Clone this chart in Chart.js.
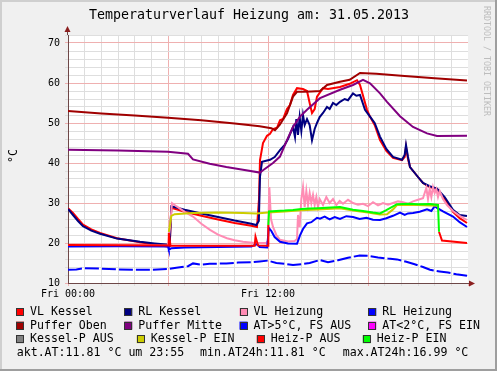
<!DOCTYPE html>
<html>
<head>
<meta charset="utf-8">
<script src="https://cdn.jsdelivr.net/npm/chart.js@4"></script>
<style>
    html, body { margin: 0; padding: 0; background: #f0f0f0; }
    canvas { display: block; }
</style>
</head>
<body>
<canvas id="chart" width="497" height="371"></canvas>
<script>
// time axis in hours of 31.05.2013, values in °C
const xTickLabels = { 0: 'Fri 00:00', 12: 'Fri 12:00' };

const vlKesselT = [0, 0.3, 0.6, 0.9, 1.4, 1.92, 2.94, 4.32, 5.2, 5.95, 6.1, 6.2, 7, 8, 9, 10, 11, 11.34, 11.46, 11.52, 11.7, 11.94, 12.12, 12.3, 12.54, 12.72, 12.9, 13.14, 13.32, 13.5, 13.74, 14.1, 14.34, 14.5, 14.64, 14.8, 14.94, 15.3, 15.6, 16.32, 16.9, 17.34, 17.52, 17.94, 18.12, 18.4, 18.72, 19.1, 19.5, 20.04, 20.2, 20.28, 20.4, 20.52, 21.0, 21.3, 21.7, 22.14, 22.6, 23.1, 23.5, 23.94];
const vlKesselV = [28.7, 27.5, 26.0, 24.6, 23.4, 22.5, 21.2, 20.2, 19.6, 19.1, 19.2, 28.8, 27.8, 26.8, 25.9, 25.0, 24.3, 24.0, 31.0, 40.7, 45.0, 46.8, 47.3, 48.5, 48.8, 50.7, 51.0, 53.5, 54.5, 57.0, 58.7, 58.5, 58.0, 55.0, 52.5, 53.5, 56.6, 58.7, 58.5, 59.0, 59.8, 60.7, 59.5, 53.3, 51.6, 49.5, 45.7, 43.0, 41.3, 40.7, 41.5, 44.0, 41.0, 39.0, 36.5, 35.0, 34.0, 33.5, 31.0, 27.8, 26.2, 25.0];

const rlKesselT = [0, 0.3, 0.6, 0.9, 1.4, 1.92, 2.94, 4.32, 5.2, 5.9, 6.1, 6.2, 7, 8, 9, 10, 11, 11.3, 11.45, 11.52, 11.64, 12.12, 12.4, 12.72, 13.0, 13.2, 13.5, 13.62, 13.7, 13.8, 13.9, 14.0, 14.1, 14.2, 14.34, 14.5, 14.64, 14.8, 14.94, 15.1, 15.3, 15.54, 15.7, 15.9, 16.1, 16.32, 16.6, 16.8, 17.1, 17.3, 17.52, 17.82, 18.12, 18.4, 18.72, 19.1, 19.5, 20.04, 20.2, 20.28, 20.4, 20.52, 21.0, 21.3, 21.7, 22.14, 22.6, 23.1, 23.5, 23.94];
const rlKesselV = [28.5, 27.0, 25.5, 24.2, 23.1, 22.3, 21.1, 20.3, 19.9, 19.6, 19.3, 29.2, 28.3, 27.4, 26.5, 25.6, 24.8, 24.5, 25.5, 36.6, 40.3, 40.8, 41.5, 43.2, 44.5, 46.0, 49.0, 46.5, 51.0, 47.0, 51.5, 48.0, 52.0, 49.5, 51.0, 49.5, 45.7, 48.5, 50.0, 51.5, 52.5, 54.0, 53.5, 55.0, 54.5, 55.3, 56.0, 55.7, 57.4, 56.8, 57.0, 53.3, 51.6, 50.0, 46.6, 43.5, 41.5, 40.8, 42.0, 44.5, 41.5, 39.0, 36.5, 35.0, 34.2, 33.6, 31.5, 28.3, 27.0, 26.75];

const vlHeizungT = [0, 6.0, 6.1, 6.24, 6.5, 7.0, 7.5, 8.0, 8.52, 9.0, 9.54, 10.0, 10.5, 11.22, 11.9, 12.0, 12.08, 12.18, 12.3, 12.5, 12.72, 13.2, 13.6, 13.74, 13.8, 13.9, 14.0, 14.1, 14.2, 14.3, 14.4, 14.5, 14.6, 14.7, 14.8, 14.9, 15.0, 15.1, 15.3, 15.5, 15.7, 15.9, 16.1, 16.3, 16.5, 16.8, 17.1, 17.4, 17.7, 18.0, 18.3, 18.6, 18.9, 19.2, 19.5, 19.8, 20.1, 20.4, 20.7, 21.0, 21.3, 21.5, 21.6, 21.7, 21.8, 21.9, 22.0, 22.1, 22.2, 22.3, 22.5, 22.74, 23.1, 23.5, 23.94];
const vlHeizungV = [19.5, 19.4, 23.0, 30.0, 29.2, 27.8, 26.6, 24.8, 23.3, 22.1, 21.2, 20.7, 20.3, 20.0, 20.0, 20.5, 34.0, 26.0, 24.0, 22.0, 20.8, 20.4, 20.5, 21.0, 27.0, 24.0, 31.0, 34.0, 29.0, 33.0, 29.5, 32.5, 30.0, 32.0, 29.5, 31.5, 29.0, 31.0, 29.5, 31.5, 30.0, 31.0, 29.5, 30.5, 29.8, 30.8, 30.0, 29.6, 29.8, 29.2, 30.2, 29.4, 30.0, 29.6, 30.0, 30.4, 30.2, 29.8, 30.4, 30.8, 31.2, 33.8, 31.0, 33.5, 31.5, 34.0, 32.5, 33.5, 31.5, 33.0, 31.0, 29.5, 28.0, 26.8, 25.75];

const rlHeizungT = [0, 3, 6.0, 6.05, 6.2, 7, 9, 11.0, 11.2, 11.35, 11.5, 11.95, 12.05, 12.2, 12.4, 12.72, 13.2, 13.74, 13.92, 14.1, 14.34, 14.6, 14.94, 15.12, 15.4, 15.7, 16.0, 16.32, 16.7, 17.1, 17.5, 17.9, 18.3, 18.72, 19.1, 19.5, 19.92, 20.2, 20.4, 20.7, 21.1, 21.54, 21.8, 22.0, 22.14, 22.5, 23.1, 23.5, 23.94];
const rlHeizungV = [19.1, 19.2, 19.1, 18.3, 18.7, 18.9, 19.0, 19.1, 19.5, 19.7, 19.0, 18.9, 23.8, 23.0, 21.5, 20.3, 19.9, 19.8, 21.9, 23.5, 24.9, 25.2, 26.3, 26.1, 26.6, 25.9, 26.5, 26.0, 26.7, 26.5, 26.0, 26.3, 25.8, 25.75, 26.2, 26.8, 27.6, 27.0, 27.4, 27.5, 27.8, 28.4, 28.0, 29.2, 28.8, 27.9, 26.6, 25.2, 24.0];

const pufferObenT = [0, 2, 4, 6, 8, 10, 11.5, 12.2, 12.42, 12.7, 13.14, 13.5, 13.74, 14.1, 14.6, 15.12, 15.54, 16.32, 16.9, 17.52, 18.5, 20, 22, 23.94];
const pufferObenV = [53.0, 52.4, 51.9, 51.3, 50.7, 49.9, 49.2, 48.7, 48.2, 49.5, 52.4, 56.6, 57.8, 57.8, 57.9, 58.0, 59.5, 60.3, 60.8, 62.5, 62.3, 61.8, 61.2, 60.6];

const pufferMitteT = [0, 3, 6, 7.2, 7.5, 8.5, 9.5, 10.5, 11.52, 11.7, 12.3, 12.72, 13.14, 13.5, 13.92, 14.34, 15.12, 16.32, 17.1, 17.7, 18.12, 18.72, 19.14, 19.92, 20.7, 21.54, 22.14, 23.94];
const pufferMitteV = [43.3, 43.1, 42.8, 42.3, 40.9, 39.8, 39.0, 38.3, 37.6, 38.2, 40.0, 41.6, 45.7, 49.0, 51.6, 53.3, 56.2, 58.3, 59.5, 60.8, 59.9, 57.4, 55.3, 51.7, 49.0, 47.4, 46.75, 46.8];

const atT = [0, 0.5, 1, 2, 3, 4, 5, 6, 6.5, 7.2, 7.5, 8, 8.5, 9.5, 10.2, 11, 11.5, 12, 12.5, 13, 13.5, 14, 14.5, 15.12, 15.6, 16.2, 16.8, 17.5, 18, 18.6, 19.2, 19.74, 20.3, 20.8, 21.3, 21.72, 22.3, 22.8, 23.3, 23.94];
const atV = [13.3, 13.4, 13.7, 13.6, 13.4, 13.3, 13.3, 13.5, 13.8, 14.2, 14.9, 14.6, 14.8, 14.9, 15.1, 15.2, 15.4, 15.6, 15.0, 14.8, 14.5, 14.7, 15.0, 15.75, 15.2, 15.7, 16.3, 16.9, 16.8, 16.4, 16.1, 15.9, 15.3, 14.7, 14.0, 13.3, 12.9, 12.6, 12.2, 11.8];

const atFrostT = [];
const atFrostV = [];

const kesselAusT = [];
const kesselAusV = [];

const kesselEinT = [6.05, 6.2, 6.4, 7.5, 9, 10.5, 11.3, 12.0, 13, 14, 15, 16.32, 17.1, 18.0, 18.72, 19.14, 19.5, 19.74, 21, 22.2];
const kesselEinV = [22.8, 26.8, 27.2, 27.5, 27.6, 27.5, 27.4, 27.6, 27.9, 28.2, 28.4, 28.7, 28.1, 27.6, 27.1, 27.2, 28.4, 29.5, 29.5, 29.3];

const heizAusT = [0, 6.0, 6.05, 6.15, 11.2, 11.25, 11.4, 12.0, 12.02, 12.03, 22.26, 22.44, 23.94];
const heizAusV = [19.5, 19.4, 22.5, 19.3, 19.3, 21.6, 19.4, 19.3, 24.5, null, 22.8, 20.6, 20.0];

const heizEinT = [12.02, 12.06, 12.5, 13.0, 13.5, 14.0, 14.5, 15.0, 15.5, 16.32, 17.1, 17.7, 18.3, 18.72, 19.1, 19.74, 20.5, 21.0, 21.72, 22.2, 22.26];
const heizEinV = [24.5, 27.9, 28.0, 28.1, 28.25, 28.5, 28.6, 28.7, 28.8, 29.0, 28.3, 28.0, 27.6, 27.4, 28.2, 29.7, 29.8, 29.7, 29.75, 29.5, 22.8];

const seriesLabels = ['VL Kessel', 'RL Kessel', 'VL Heizung', 'RL Heizung', 'Puffer Oben', 'Puffer Mitte',
    'AT>5°C, FS AUS', 'AT<2°C, FS EIN', 'Kessel-P AUS', 'Kessel-P EIN', 'Heiz-P AUS', 'Heiz-P EIN'];
const seriesColors = ['#ff0000', '#000080', '#ff8cb4', '#0000ff', '#a00000', '#800080',
    '#0000ff', '#ff00ff', '#808080', '#cccc00', '#ff0000', '#00ff00'];
const seriesTimes = [vlKesselT, rlKesselT, vlHeizungT, rlHeizungT, pufferObenT, pufferMitteT,
    atT, atFrostT, kesselAusT, kesselEinT, heizAusT, heizEinT];
const seriesValues = [vlKesselV, rlKesselV, vlHeizungV, rlHeizungV, pufferObenV, pufferMitteV,
    atV, atFrostV, kesselAusV, kesselEinV, heizAusV, heizEinV];

const statsTexts = ['akt.AT:11.81 °C um 23:55', 'min.AT24h:11.81 °C', 'max.AT24h:16.99 °C'];

// legend layout (rrdtool justified rows)
const legendRows = [
    { y: 312, items: [0, 1, 2, 3], boxX: [16, 124.3, 239.5, 368.3] },
    { y: 325.6, items: [4, 5, 6, 7], boxX: [16, 124.3, 239.5, 368.3] },
    { y: 339.2, items: [8, 9, 10, 11], boxX: [16, 136.7, 256.7, 362.7] }
];
const statsRow = { y: 352.8, x: [16.7, 200, 342.7] };

const MONO = '"DejaVu Sans Mono", "Liberation Mono", monospace';
const MAJOR_GRID = '#efb0b0';
const MINOR_GRID = '#dedede';
const AXIS_COLOR = '#6e4848';
const ARROW_COLOR = '#8b1f1f';

function toPoints(t, v) {
    return t.map((x, i) => ({ x: x, y: v[i] }));
}

const datasets = seriesLabels.map((label, i) => ({
    label: label,
    data: toPoints(seriesTimes[i], seriesValues[i]),
    borderColor: seriesColors[i],
    backgroundColor: seriesColors[i],
    borderWidth: 2,
    borderDash: i === 6 ? [14, 3] : [],
    pointRadius: 0,
    tension: 0,
    spanGaps: false,
    // rrdtool paints later series on top
    order: seriesLabels.length - i
}));

const rrdFrame = {
    id: 'rrdFrame',
    beforeDraw(chart) {
        const c = chart.ctx;
        const a = chart.chartArea;
        c.save();
        c.fillStyle = '#f0f0f0';
        c.fillRect(0, 0, chart.width, chart.height);
        c.fillStyle = '#cfcfcf';
        c.fillRect(0, 0, chart.width, 2);
        c.fillRect(0, 0, 2, chart.height);
        c.fillStyle = '#9e9e9e';
        c.fillRect(0, chart.height - 2, chart.width, 2);
        c.fillRect(chart.width - 2, 0, 2, chart.height);
        c.fillStyle = '#ffffff';
        c.fillRect(a.left, a.top, a.right - a.left, a.bottom - a.top);
        c.restore();
    },
    afterDraw(chart) {
        const c = chart.ctx;
        const a = chart.chartArea;
        c.save();

        // Title
        c.fillStyle = '#000';
        c.font = '13.3px ' + MONO;
        c.textAlign = 'center';
        c.textBaseline = 'middle';
        c.fillText('Temperaturverlauf Heizung am: 31.05.2013', 249, 16);

        // Axis extensions and arrows
        const ax = Math.round(a.left) - 0.5;
        const ay = Math.round(a.bottom) + 0.5;
        c.strokeStyle = AXIS_COLOR;
        c.lineWidth = 1;
        c.beginPath();
        c.moveTo(ax, a.top);
        c.lineTo(ax, a.top - 4);
        c.moveTo(a.right, ay);
        c.lineTo(a.right + 2, ay);
        c.stroke();
        c.fillStyle = ARROW_COLOR;
        c.beginPath();
        c.moveTo(ax, a.top - 9);
        c.lineTo(ax - 3, a.top - 3);
        c.lineTo(ax + 3, a.top - 3);
        c.closePath();
        c.fill();
        c.beginPath();
        c.moveTo(a.right + 7, ay);
        c.lineTo(a.right + 1, ay - 3);
        c.lineTo(a.right + 1, ay + 3);
        c.closePath();
        c.fill();

        // Unit label
        c.fillStyle = '#000';
        c.font = '11.6px ' + MONO;
        c.translate(13.5, 156);
        c.rotate(-Math.PI / 2);
        c.textAlign = 'center';
        c.fillText('°C', 0, 0);
        c.setTransform(1, 0, 0, 1, 0, 0);

        // Watermark
        c.fillStyle = '#bdbdbd';
        c.font = '8.3px ' + MONO;
        c.translate(486.5, 6);
        c.rotate(Math.PI / 2);
        c.textAlign = 'left';
        c.fillText('RRDTOOL / TOBI OETIKER', 0, 0);
        c.setTransform(1, 0, 0, 1, 0, 0);

        // Legend
        c.font = '11.6px ' + MONO;
        c.textAlign = 'left';
        c.textBaseline = 'middle';
        legendRows.forEach(row => {
            row.items.forEach((idx, k) => {
                const bx = row.boxX[k];
                c.fillStyle = seriesColors[idx];
                c.fillRect(bx, row.y - 4, 8, 8);
                c.strokeStyle = '#333';
                c.lineWidth = 1;
                c.strokeRect(Math.round(bx) + 0.5, Math.round(row.y - 4) + 0.5, 7, 7);
                c.fillStyle = '#000';
                c.fillText(seriesLabels[idx], bx + 14, row.y);
            });
        });
        statsTexts.forEach((txt, k) => {
            c.fillText(txt, statsRow.x[k], statsRow.y);
        });

        c.restore();
    }
};

new Chart(document.getElementById('chart'), {
    type: 'line',
    data: { datasets: datasets },
    options: {
        responsive: false,
        animation: false,
        devicePixelRatio: 1,
        layout: { padding: { left: 0, top: 35, right: 29, bottom: 0 } },
        plugins: {
            legend: { display: false },
            tooltip: { enabled: false },
            title: { display: false }
        },
        scales: {
            x: {
                type: 'linear',
                min: 0,
                max: 24,
                afterFit: s => { s.height = 88; s.paddingLeft = 0; s.paddingRight = 0; },
                ticks: {
                    stepSize: 1,
                    autoSkip: false,
                    maxRotation: 0,
                    padding: 2,
                    color: '#000',
                    font: { family: MONO, size: 10 },
                    callback: v => xTickLabels[v] || ''
                },
                grid: {
                    color: ctx => ctx.tick.value === 24 ? 'rgba(0,0,0,0)' : (ctx.tick.value % 6 === 0 ? MAJOR_GRID : MINOR_GRID),
                    tickColor: ctx => ctx.tick.value % 6 === 0 ? MAJOR_GRID : MINOR_GRID,
                    tickLength: 3,
                    lineWidth: 1
                },
                border: { display: true, color: AXIS_COLOR, width: 1 }
            },
            y: {
                min: 10,
                max: 72,
                afterFit: s => { s.width = 68; s.paddingTop = 0; s.paddingBottom = 0; },
                ticks: {
                    stepSize: 2,
                    autoSkip: false,
                    padding: 5,
                    color: '#000',
                    font: { family: MONO, size: 10 },
                    callback: v => v % 10 === 0 ? String(v) : ''
                },
                grid: {
                    color: ctx => ctx.tick.value % 10 === 0 ? MAJOR_GRID : MINOR_GRID,
                    tickColor: ctx => ctx.tick.value % 10 === 0 ? MAJOR_GRID : MINOR_GRID,
                    tickLength: 3,
                    lineWidth: 1
                },
                border: { display: true, color: AXIS_COLOR, width: 1 }
            }
        }
    },
    plugins: [rrdFrame]
});
</script>
</body>
</html>
